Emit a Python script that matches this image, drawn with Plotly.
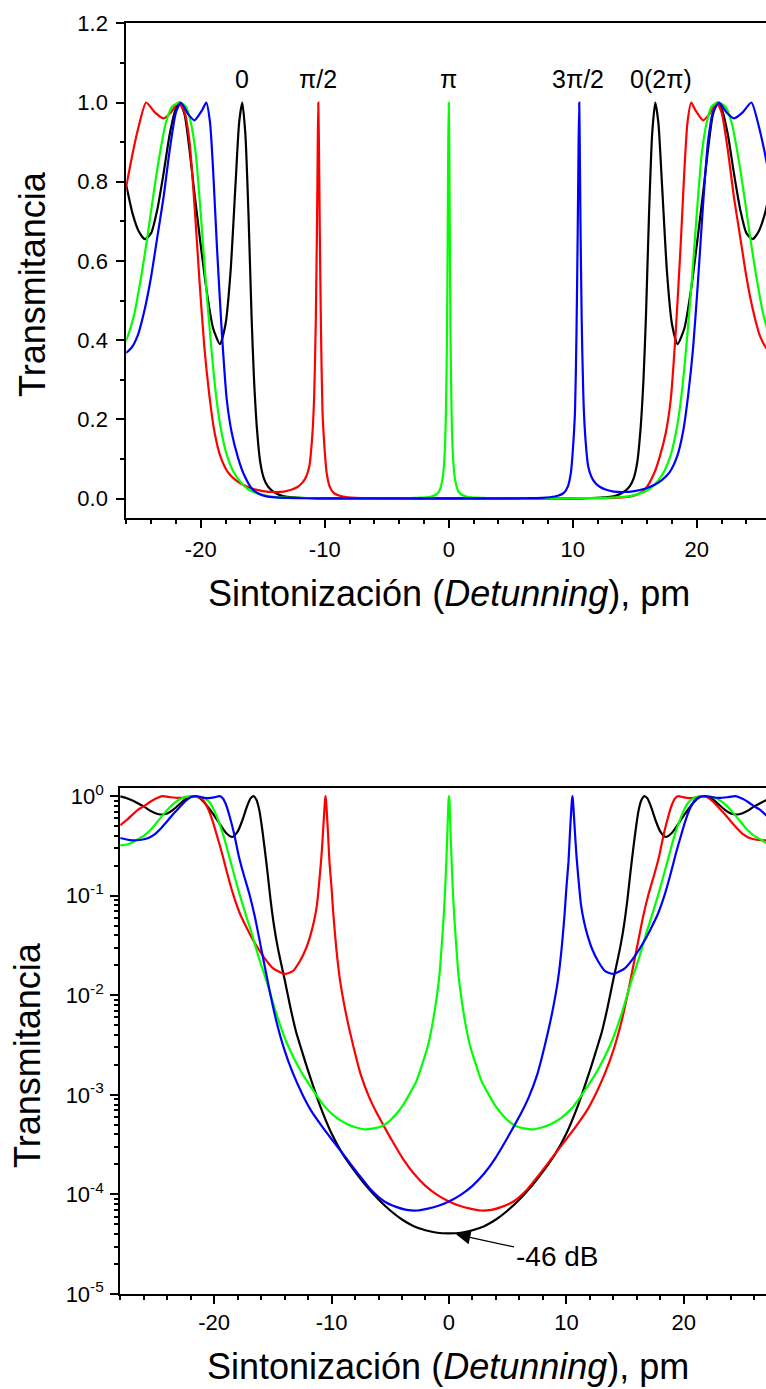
import plotly.graph_objects as go

# ---------------- data ----------------
x_black = [-28, -27.5, -27, -26.5, -26, -25.5, -25, -24.5, -24, -23.5, -23, -22.5, -22, -21.7,
           -21.3, -20.9, -20.5, -20, -19.5, -19, -18.45, -18, -17.6, -17.2, -16.9, -16.65, -16.4,
           -16.15, -15.9, -15.7, -15.45, -15.2, -14.9, -14.6, -14.3, -14, -13.5, -13, -12.5, -12,
           -11, -10, -9, -8, -7, -6, -5, -4, -3, -2, -1, 0,
           1, 2, 3, 4, 5, 6, 7, 8, 9, 10, 11, 12, 12.5, 13, 13.5, 14, 14.3, 14.6, 14.9, 15.2, 15.45,
           15.7, 15.9, 16.15, 16.4, 16.65, 16.9, 17.2, 17.6, 18, 18.45, 19, 19.5, 20, 20.5, 20.9,
           21.3, 21.7, 22, 22.5, 23, 23.5, 24, 24.5, 25, 25.5, 26, 26.5, 27, 27.5, 28]
t_black = [0.995, 0.96, 0.91, 0.85, 0.79, 0.72, 0.675, 0.655, 0.67, 0.73, 0.82, 0.92, 0.985, 1.0,
           0.97, 0.88, 0.77, 0.64, 0.52, 0.43, 0.39, 0.44, 0.57, 0.79, 0.95, 1.0, 0.92,
           0.72, 0.46, 0.30, 0.17, 0.092, 0.05, 0.031, 0.021, 0.0145, 0.0075, 0.0042, 0.0027, 0.00175,
           7.9e-4, 4.1e-4, 2.5e-4, 1.7e-4, 1.2e-4, 8.9e-5, 6.9e-5, 5.6e-5, 4.8e-5, 4.37e-5, 4.12e-5, 4.07e-5,
           4.12e-5, 4.37e-5, 4.8e-5, 5.6e-5, 6.9e-5, 8.9e-5, 1.2e-4, 1.7e-4, 2.5e-4, 4.1e-4, 7.9e-4, 0.00175,
           0.0027, 0.0042, 0.0075, 0.0145, 0.021, 0.031, 0.05, 0.092, 0.17,
           0.30, 0.46, 0.72, 0.92, 1.0, 0.95, 0.79, 0.57, 0.44, 0.39, 0.43, 0.52, 0.64, 0.77, 0.88,
           0.97, 1.0, 0.985, 0.92, 0.82, 0.73, 0.67, 0.655, 0.675, 0.72, 0.79, 0.85, 0.91, 0.96, 0.995]

x_red = [-28, -27.5, -27, -26.5, -26, -25.5, -25, -24.4, -23.7, -23.0, -22.4, -21.8, -21.3, -20.9,
         -20.5, -20.1, -19.7, -19.3, -18.9, -18.4, -17.8, -17.2, -16.6, -15.8, -15.0, -14.0, -13.3,
         -12.7, -12.2, -11.8, -11.5, -11.25, -11.0, -10.85, -10.72, -10.62, -10.56, -10.52, -10.47,
         -10.4, -10.3, -10.18, -10.0, -9.85, -9.6, -9.28, -8.8, -8.15, -7.5, -6.8, -6.16, -5.6, -4.8,
         -3.9, -3.0, -2.0, -1.0, 0, 0.9, 1.8, 2.7, 3.6, 4.5, 5.5, 6.6, 7.75, 8.8, 9.8, 10.8, 11.73,
         12.5, 13.3, 14.0, 14.7, 15.28, 15.9, 16.55, 17.0, 17.5, 17.9, 18.3, 18.7, 19.0, 19.25, 19.55,
         19.9, 20.5, 21.0, 21.6, 22.0, 22.5, 23.0, 23.5, 24.0, 24.5, 25.1, 25.6, 26.2, 27.0, 28.0]
t_red = [0.51, 0.57, 0.645, 0.73, 0.79, 0.87, 0.94, 1.0, 0.975, 0.96, 0.975, 1.0, 0.975, 0.9,
         0.74, 0.55, 0.38, 0.26, 0.17, 0.105, 0.066, 0.047, 0.0345, 0.0245, 0.0188, 0.0164, 0.0175,
         0.022, 0.029, 0.04, 0.055, 0.08, 0.16, 0.26, 0.45, 0.7, 0.9, 1.0, 0.9,
         0.68, 0.42, 0.22, 0.12, 0.066, 0.03, 0.0142, 0.0068, 0.0031, 0.00158, 9.5e-4, 6.6e-4, 5.0e-4, 3.4e-4,
         2.26e-4, 1.62e-4, 1.22e-4, 9.9e-5, 8.5e-5, 7.7e-5, 7.2e-5, 6.9e-5, 7.0e-5, 7.5e-5, 8.5e-5, 1.1e-4,
         1.62e-4, 2.35e-4, 3.35e-4, 4.8e-4, 6.9e-4,
         1.02e-3, 1.66e-3, 0.0028, 0.0055, 0.0112, 0.026, 0.063, 0.104, 0.166, 0.25, 0.42, 0.64, 0.83, 0.95, 1.0,
         0.98, 0.955, 0.97, 1.0, 0.975, 0.88, 0.76, 0.66, 0.56, 0.48, 0.41, 0.38, 0.365, 0.36, 0.38]

x_green = [-28, -27.5, -27, -26.5, -26, -25.4, -24.8, -24.3, -23.8, -23.3, -22.8, -22.3, -21.7,
           -21.2, -20.8, -20.4, -20.0, -19.6, -19.2, -18.8, -18.4, -17.9, -17.4, -16.8, -16.2, -15.5,
           -14.7, -13.8, -12.7, -11.5, -10.4, -9.5, -8.7, -7.9, -7.15, -6.4, -5.8, -5.2, -4.6, -4.0,
           -3.4, -2.8, -2.3, -1.8, -1.4, -1.05, -0.8, -0.6, -0.45, -0.32, -0.22, -0.14, -0.08, -0.04, 0,
           0.04, 0.08, 0.14, 0.22, 0.32, 0.45, 0.6, 0.8, 1.05, 1.4, 1.8, 2.3, 2.8, 3.4, 4.0, 4.6,
           5.2, 5.8, 6.4, 7.15, 7.9, 8.7, 9.5, 10.4, 11.5, 12.7, 13.8, 14.7, 15.5, 16.2, 16.8, 17.4,
           17.9, 18.4, 18.8, 19.2, 19.6, 20.0, 20.4, 20.8, 21.2, 21.7, 22.3, 22.8, 23.3, 23.8, 24.3,
           24.8, 25.4, 26, 26.5, 27, 27.5, 28]
t_green = [0.32, 0.325, 0.34, 0.37, 0.40, 0.46, 0.56, 0.66, 0.77, 0.87, 0.95, 0.99, 1.0,
           0.99, 0.95, 0.87, 0.72, 0.55, 0.40, 0.27, 0.18, 0.11, 0.07, 0.042, 0.024, 0.0135,
           0.0065, 0.0033, 0.0018, 0.00108, 7.2e-4, 5.8e-4, 5.1e-4, 4.7e-4, 4.5e-4, 4.6e-4, 4.8e-4,
           5.3e-4, 6.2e-4, 7.6e-4, 0.001, 0.00135, 0.002, 0.0031, 0.0052, 0.0095, 0.0165, 0.034, 0.062,
           0.12, 0.23, 0.42, 0.69, 0.9, 1.0,
           0.9, 0.69, 0.42, 0.23, 0.12, 0.062, 0.034, 0.0165, 0.0095, 0.0052, 0.0031, 0.002, 0.00135,
           0.001, 7.6e-4, 6.2e-4, 5.3e-4, 4.8e-4, 4.6e-4, 4.5e-4, 4.7e-4, 5.1e-4, 5.8e-4, 7.2e-4,
           0.00108, 0.0018, 0.0033, 0.0065, 0.0135, 0.024, 0.042, 0.07, 0.11, 0.18, 0.27, 0.40, 0.55,
           0.72, 0.87, 0.95, 0.99, 1.0, 0.99, 0.95, 0.87, 0.77, 0.66, 0.56, 0.46, 0.40, 0.37, 0.34,
           0.325, 0.32]

x_blue = [-28.0, -27.0, -26.2, -25.6, -25.1, -24.5, -24.0, -23.5, -23.0, -22.5, -22.0, -21.6, -21.0,
          -20.5, -19.9, -19.55, -19.25, -19.0, -18.7, -18.3, -17.9, -17.5, -17.0, -16.55, -15.9,
          -15.28, -14.7, -14.0, -13.3, -12.5, -11.73, -10.8, -9.8, -8.8, -7.75, -6.6, -5.5, -4.5,
          -3.6, -2.7, -1.8, -0.9, 0, 1.0, 2.0, 3.0, 3.9, 4.8, 5.6, 6.16, 6.8, 7.5, 8.15, 8.8, 9.28,
          9.6, 9.85, 10.0, 10.18, 10.3, 10.4, 10.47, 10.52, 10.56, 10.62, 10.72, 10.85, 11.0, 11.25,
          11.5, 11.8, 12.2, 12.7, 13.3, 14.0, 15.0, 15.8, 16.6, 17.2, 17.8, 18.4, 18.9, 19.3, 19.7,
          20.1, 20.5, 20.9, 21.3, 21.8, 22.4, 23.0, 23.7, 24.4, 25, 25.5, 26, 26.5, 27, 27.5, 28]
t_blue = [0.38, 0.36, 0.365, 0.38, 0.41, 0.48, 0.56, 0.66, 0.76, 0.88, 0.975, 1.0, 0.97,
          0.955, 0.98, 1.0, 0.95, 0.83, 0.64, 0.42, 0.25, 0.166, 0.104, 0.063, 0.026,
          0.0112, 0.0055, 0.0028, 1.66e-3, 1.02e-3, 6.9e-4, 4.8e-4, 3.35e-4, 2.35e-4, 1.62e-4, 1.1e-4,
          8.5e-5, 7.5e-5, 7.0e-5, 6.9e-5, 7.2e-5, 7.7e-5, 8.5e-5, 9.9e-5, 1.22e-4, 1.62e-4, 2.26e-4,
          3.4e-4, 5.0e-4, 6.6e-4, 9.5e-4, 0.00158, 0.0031, 0.0068, 0.0142,
          0.03, 0.066, 0.12, 0.22, 0.42, 0.68, 0.9, 1.0, 0.9, 0.7, 0.45, 0.26, 0.16, 0.08,
          0.055, 0.04, 0.029, 0.022, 0.0175, 0.0164, 0.0188, 0.0245, 0.0345, 0.047, 0.066, 0.105,
          0.17, 0.26, 0.38, 0.55, 0.74, 0.9, 0.975, 1.0, 0.975, 0.96, 0.975, 1.0, 0.94, 0.87, 0.79,
          0.73, 0.645, 0.57, 0.51]

phase_labels = ["0", "π/2", "π", "3π/2", "0(2π)"]
x_tick_vals = [-20, -10, 0, 10, 20]
x_tick_text = ["-20", "-10", "0", "10", "20"]
log_tick_vals = [1e-5, 1e-4, 1e-3, 1e-2, 1e-1, 1]
log_tick_text = ["10<sup>-5</sup>", "10<sup>-4</sup>", "10<sup>-3</sup>", "10<sup>-2</sup>",
                 "10<sup>-1</sup>", "10<sup>0</sup>"]
x_title = "Sintonización (<i>Detunning</i>), pm"
y_title = "Transmitancia"
min_label = "-46 dB"

# ---------------- figure ----------------
W, H = 766, 1389
FONT = "Arial, Liberation Sans, sans-serif"
series = [(x_black, t_black, "#000000"), (x_red, t_red, "#ff0000"),
          (x_green, t_green, "#00ff00"), (x_blue, t_blue, "#0000ff")]

fig = go.Figure()
for xa, ya in (("x", "y"), ("x2", "y2")):
    for xs, ys, col in series:
        fig.add_trace(go.Scatter(x=xs, y=ys, mode="lines",
                                 line=dict(color=col, width=2.2, shape="spline", smoothing=0.6),
                                 xaxis=xa, yaxis=ya, hoverinfo="skip"))

minor_log = [m * 10 ** e for e in range(-5, 0) for m in range(2, 10)]

axis_common = dict(showline=True, linewidth=2, linecolor="black", showgrid=False, zeroline=False,
                   ticks="outside", ticklen=8, tickwidth=2, tickcolor="black",
                   tickfont=dict(family=FONT, size=22, color="black"), automargin=False)
minor_lin = dict(ticks="outside", ticklen=4, tickwidth=1.5, tickcolor="black", showgrid=False)

fig.update_layout(
    width=W, height=H, margin=dict(l=0, r=0, t=0, b=0),
    paper_bgcolor="white", plot_bgcolor="white", showlegend=False,
    font=dict(family=FONT, color="black"),
    xaxis=dict(domain=[126.3 / W, 1], anchor="y", range=[-26, 25.58],
               tickmode="array", tickvals=x_tick_vals, ticktext=x_tick_text,
               mirror=True, ticklabelstandoff=2,
               minor=dict(dtick=2, tick0=0, **minor_lin), **axis_common),
    yaxis=dict(domain=[1 - 518.3 / H, 1 - 23.3 / H], anchor="x", range=[-0.05, 1.2], dtick=0.2, tick0=0,
               tickformat=".1f", ticklabelstandoff=4,
               minor=dict(dtick=0.1, tick0=0, **minor_lin), **axis_common),
    xaxis2=dict(domain=[120.2 / W, 1], anchor="y2", range=[-28, 27.0],
                tickmode="array", tickvals=x_tick_vals, ticktext=x_tick_text,
                mirror=True, ticklabelstandoff=0,
                minor=dict(dtick=2, tick0=0, **minor_lin), **axis_common),
    yaxis2=dict(domain=[1 - 1294 / H, 1 - 788.3 / H], anchor="x2", type="log", range=[-5, 0.0792],
                tickmode="array", tickvals=log_tick_vals, ticktext=log_tick_text, ticklabelstandoff=2,
                minor=dict(tickmode="array", tickvals=minor_log, **minor_lin), **axis_common),
)

ann = []
top_pos = [-16.65, -10.55, -0.05, 10.42, 17.1]
bot_pos = [-16.8, -10.7, -0.08, 10.8, 17.3]
for lab, xp in zip(phase_labels, top_pos):
    ann.append(dict(x=xp, y=1.059, xref="x", yref="y", text=lab, showarrow=False,
                    font=dict(family=FONT, size=25, color="black"), xanchor="center", yanchor="middle"))
for lab, xp in zip(phase_labels, bot_pos):
    ann.append(dict(x=xp, y=0.29, xref="x2", yref="y2", text=lab, showarrow=False,
                    font=dict(family=FONT, size=25, color="black"), xanchor="center", yanchor="middle"))

# axis titles
for xc, yc, txt, ang in ((32, 284, y_title, -90), (27, 1055, y_title, -90),
                         (449, 593, x_title, 0), (448, 1366, x_title, 0)):
    ann.append(dict(x=xc / W, y=1 - yc / H, xref="paper", yref="paper", text=txt, textangle=ang,
                    showarrow=False, font=dict(family=FONT, size=36, color="black"),
                    xanchor="center", yanchor="middle"))

# -46 dB arrow
ann.append(dict(x=0.6, y=-4.40, xref="x2", yref="y2", text=min_label, showarrow=True,
                ax=101, ay=22, axref="pixel", ayref="pixel", arrowhead=2, arrowsize=2.4,
                arrowwidth=1.2, arrowcolor="black",
                font=dict(family=FONT, size=28, color="black")))

fig.update_layout(annotations=ann)

fig.write_html("out.html", config={"displayModeBar": False},
               post_script="document.body.style.margin='0';")
